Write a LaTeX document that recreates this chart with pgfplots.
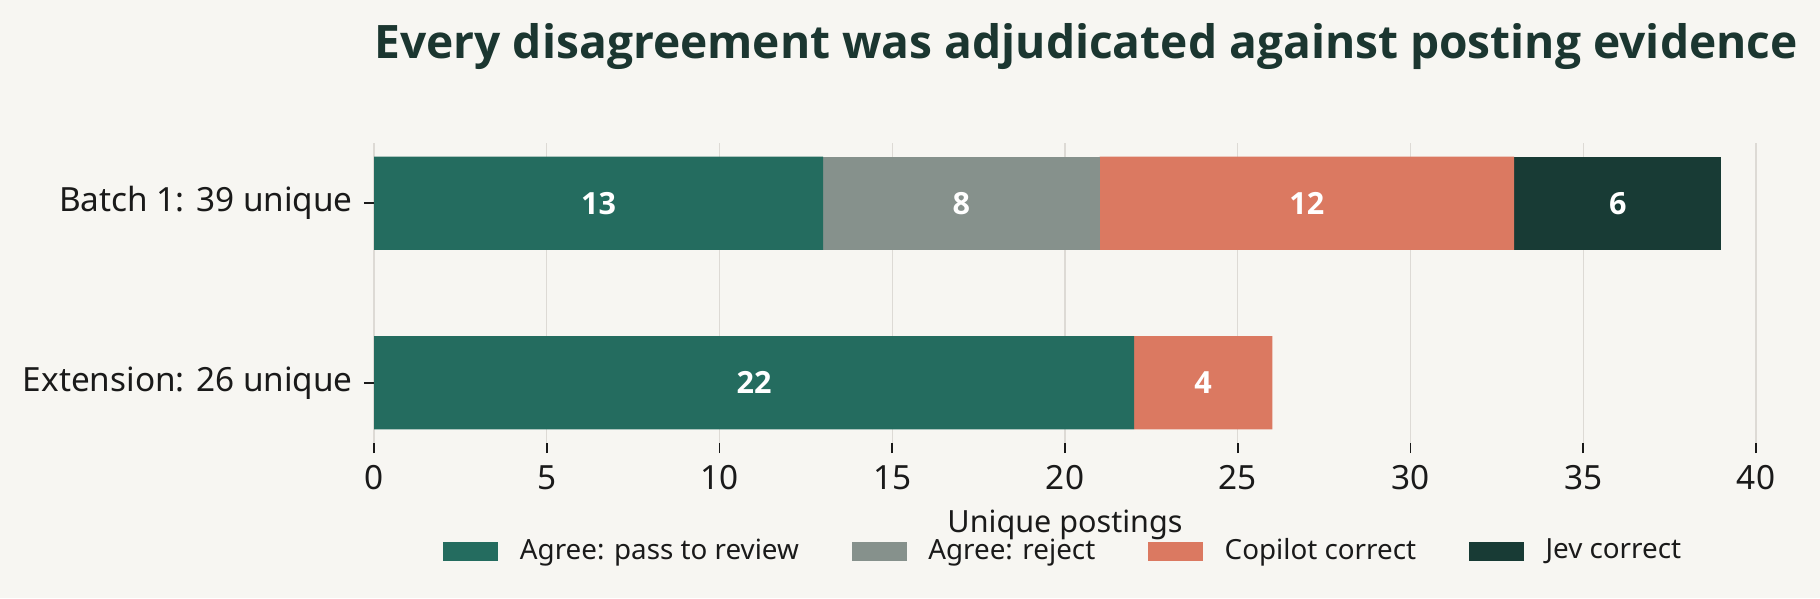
\documentclass[border=0pt]{standalone}
\usepackage{fontspec}
\setmainfont{Noto Sans}
\newfontfamily\boldfam{Open Sans}
\usepackage{pgfplots}
\pgfplotsset{compat=1.18}

\definecolor{bg}{HTML}{F7F6F2}
\definecolor{cteal}{HTML}{246C5F}
\definecolor{cgray}{HTML}{86918C}
\definecolor{ccoral}{HTML}{DB7961}
\definecolor{cdark}{HTML}{183B35}
\definecolor{ctitle}{HTML}{1B3630}
\definecolor{cgrid}{HTML}{DDDAD5}
\definecolor{ctext}{HTML}{1A1A1A}

% 1 px of the reference = 0.36pt
\begin{document}
\begin{tikzpicture}
\fill[bg] (0,0) rectangle (655.2pt,215.28pt);

\pgfplotsset{
    common/.style={
        at={(134.64pt,55.8pt)}, anchor=south west,
        scale only axis,
        width=497.52pt, height=108pt,
        xmin=0, xmax=40,
        ymin=-0.336, ymax=1.336,
    },
}

\begin{axis}[
    common,
    xbar stacked,
    bar width=0.52,
    ytick={0,1},
    yticklabels={Extension: 26 unique, Batch 1: 39 unique},
    xtick={0,5,...,40},
    axis x line*=bottom,
    axis y line*=left,
    axis line style={draw=none},
    tick align=outside,
    major tick length=3.6pt,
    tick style={line width=0.65pt, color=ctext},
    xmajorgrids,
    grid style={line width=0.45pt, color=cgrid},
    /pgf/number format/assume math mode=true,
    ticklabel style={font=\fontsize{12}{14}\selectfont, text=ctext},
    xticklabel style={yshift=-1pt},
    yticklabel style={xshift=-0.5pt},
    xlabel={Unique postings},
    xlabel style={at={(axis description cs:0.5,-0.2967)}, anchor=base,
        font=\fontsize{11}{13}\selectfont, text=ctext},
    title={Every disagreement was adjudicated against posting evidence},
    title style={at={(axis description cs:0,1.227)}, anchor=base west,
        inner sep=0pt,
        font=\boldfam\bfseries\fontsize{16.6}{19}\selectfont, text=ctitle},
    legend columns=4,
    legend image code/.code={
        \fill[#1] (0pt,-3.42pt) rectangle (19.8pt,3.42pt);
    },
    legend style={
        at={(axis description cs:0.5,-0.36)}, anchor=center,
        draw=none, fill=none,
        font=\fontsize{10}{12}\selectfont, text=ctext,
        /tikz/every odd column/.append style={column sep=5.8pt},
        /tikz/every even column/.append style={column sep=17pt},
    },
]
\addplot[fill=cteal, draw=none] coordinates {(22,0) (13,1)};
\addlegendentry{Agree: pass to review}
\addplot[fill=cgray, draw=none] coordinates {(0,0) (8,1)};
\addlegendentry{Agree: reject}
\addplot[fill=ccoral, draw=none] coordinates {(4,0) (12,1)};
\addlegendentry{Copilot correct}
\addplot[fill=cdark, draw=none] coordinates {(0,0) (6,1)};
\addlegendentry{Jev correct}
\end{axis}

% segment labels, at the middle of each segment
\begin{axis}[
    common,
    hide axis,
    clip=false,
]
\addplot[
    draw=none,
    nodes near coords,
    point meta=explicit symbolic,
    every node near coord/.append style={anchor=center, text=white,
        font=\boldfam\bfseries\fontsize{11}{13}\selectfont},
] coordinates {
    (6.5,1) [13]
    (17,1)  [8]
    (27,1)  [12]
    (36,1)  [6]
    (11,0)  [22]
    (24,0)  [4]
};
\end{axis}

\pgfresetboundingbox
\path[use as bounding box] (0,0) rectangle (655.2pt,215.28pt);
\end{tikzpicture}
\end{document}
